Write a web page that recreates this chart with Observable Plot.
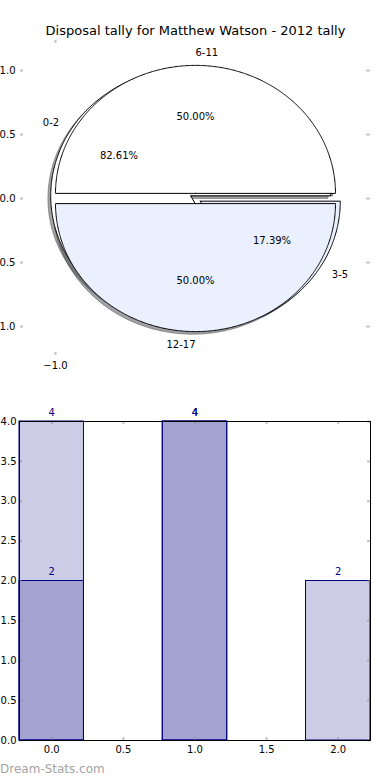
<!DOCTYPE html>
<html><head><meta charset="utf-8">
<script src="https://cdn.jsdelivr.net/npm/d3@7"></script>
<script src="https://cdn.jsdelivr.net/npm/@observablehq/plot@0.6"></script>
<style>
body{margin:0;background:#fff;font-family:"DejaVu Sans",sans-serif;}
#wrap{position:relative;width:390px;height:780px;overflow:hidden;background:#fff;}
#pie{position:absolute;left:0;top:0;}
#bar{position:absolute;left:0;top:390px;}
#wm{position:absolute;left:0;top:762px;font-size:12px;line-height:14px;color:#a3a3a3;white-space:nowrap;}
</style></head><body>
<div id="wrap"><div id="pie"></div><div id="bar"></div><div id="wm">Dream-Stats.com</div></div>
<script>
// ---------- data ----------
const title = "Disposal tally for Matthew Watson - 2012 tally";
const pie1Labels = ["0-2", "3-5"];
const pie1Pct = [82.61, 17.39];
const pie2Labels = ["6-11", "12-17"];
const pie2Pct = [50.00, 50.00];
const pieYTicks = [-1, -0.5, 0, 0.5, 1];
const pieXTicks = [-1];

const barX = [0, 1, 2];
const seriesA = [4, 4, 2];
const seriesB = [2, 4, 0];
const barXTicks = [0, 0.5, 1, 1.5, 2];
const barYTicks = [0, 0.5, 1, 1.5, 2, 2.5, 3, 3.5, 4];

// ---------- styles ----------
const WEDGE_COLORS = ["#ffffff", "#eaf0fe"];
const SHADOW_COLORS = ["#4d4d4d", "#46484c"];
const EXPLODE = 0.04, SH_X = -0.02, SH_Y = -0.02;
const LABEL_DIST = 1.1, PCT_DIST = 0.6;
const fmt1 = d3.format(".1f");
const TICK_STROKE = "#888", TICK_OP = 0.5, TICK_W = 2, TICK_LEN = 3;

function wedges(labels, pcts) {
  let a = 0;
  return labels.map((label, i) => {
    const a0 = a, a1 = a + 360 * pcts[i] / 100; a = a1;
    const mid = (a0 + a1) / 2 * Math.PI / 180;
    const cx = EXPLODE * Math.cos(mid), cy = EXPLODE * Math.sin(mid);
    const pts = [{x: cx, y: cy}];
    const n = Math.max(2, Math.ceil((a1 - a0) * 2));
    for (let k = 0; k <= n; k++) {
      const t = (a0 + (a1 - a0) * k / n) * Math.PI / 180;
      pts.push({x: cx + Math.cos(t), y: cy + Math.sin(t)});
    }
    pts.push({x: cx, y: cy});
    return {
      label, pct: pcts[i], i, pts,
      lx: cx + LABEL_DIST * Math.cos(mid), ly: cy + LABEL_DIST * Math.sin(mid),
      px: cx + PCT_DIST * Math.cos(mid), py: cy + PCT_DIST * Math.sin(mid),
      right: Math.cos(mid) > 0
    };
  });
}
const p1 = wedges(pie1Labels, pie1Pct);
const p2 = wedges(pie2Labels, pie2Pct);
const all = [...p1, ...p2];

const pieW = 390, pieH = 390, pml = 20, pmr = 20, pmt = 40, pmb = 35;
const pFrameW = pieW - pml - pmr, pFrameH = pieH - pmt - pmb;

const pieMarks = [];
for (const w of all) {
  pieMarks.push(Plot.line(w.pts, {
    x: d => d.x + SH_X, y: d => d.y + SH_Y,
    fill: SHADOW_COLORS[w.i], fillOpacity: 0.5,
    stroke: SHADOW_COLORS[w.i], strokeOpacity: 0.5, strokeWidth: 1
  }));
}
for (const w of all) {
  pieMarks.push(Plot.line(w.pts, {
    x: "x", y: "y", fill: WEDGE_COLORS[w.i], stroke: "black", strokeWidth: 1
  }));
}
pieMarks.push(
  Plot.text(all.filter(w => w.right), {x: "lx", y: "ly", text: "label", textAnchor: "start", fontSize: 10, fill: "black"}),
  Plot.text(all.filter(w => !w.right), {x: "lx", y: "ly", text: "label", textAnchor: "end", fontSize: 10, fill: "black"}),
  Plot.text(all, {x: "px", y: "py", text: d => d.pct.toFixed(2) + "%", fontSize: 10, fill: "black"}),
  // inward ticks
  Plot.tickY(pieYTicks, {y: d => d, insetRight: pFrameW - TICK_LEN, stroke: TICK_STROKE, strokeOpacity: TICK_OP, strokeWidth: TICK_W}),
  Plot.tickY(pieYTicks, {y: d => d, insetLeft: pFrameW - TICK_LEN - 1, stroke: TICK_STROKE, strokeOpacity: TICK_OP, strokeWidth: TICK_W}),
  Plot.tickX(pieXTicks, {x: d => d, insetTop: pFrameH - TICK_LEN, stroke: TICK_STROKE, strokeOpacity: TICK_OP, strokeWidth: TICK_W}),
  Plot.tickX(pieXTicks, {x: d => d, insetBottom: pFrameH - TICK_LEN, stroke: TICK_STROKE, strokeOpacity: TICK_OP, strokeWidth: TICK_W}),
  Plot.axisY({ticks: pieYTicks, tickFormat: fmt1, tickSize: 0, tickPadding: 5, label: null, fontSize: 10}),
  Plot.axisX({ticks: pieXTicks, tickFormat: fmt1, tickSize: 0, tickPadding: 6, label: null, fontSize: 10}),
  Plot.text([title], {frameAnchor: "top", lineAnchor: "middle", dy: -10, fontSize: 13, fill: "black"})
);

const pie = Plot.plot({
  width: pieW, height: pieH,
  marginLeft: pml, marginRight: pmr, marginTop: pmt, marginBottom: pmb,
  x: {domain: [-1.25, 1.25]},
  y: {domain: [-1.2266, 1.2344]},
  style: {fontFamily: "DejaVu Sans", fontSize: "10px", color: "black", background: "white", overflow: "visible"},
  marks: pieMarks
});
document.getElementById("pie").appendChild(pie);

// ---------- bar chart ----------
const BAR_W = 0.45;
const rows = s => barX.map((x, i) => ({x, v: s[i]})).filter(d => d.v > 0);
const bW = 390, bH = 390, bml = 19, bmr = 20, bmt = 31, bmb = 40;
const bFrameW = bW - bml - bmr, bFrameH = bH - bmt - bmb;
const barMarks = [];
for (const s of [seriesA, seriesB]) {
  barMarks.push(Plot.rect(rows(s), {
    x1: d => d.x - BAR_W / 2, x2: d => d.x + BAR_W / 2, y1: 0, y2: "v",
    fill: "navy", fillOpacity: 0.2, stroke: "navy", strokeWidth: 1
  }));
}
for (const s of [seriesA, seriesB]) {
  barMarks.push(Plot.text(rows(s), {x: "x", y: "v", text: d => String(d.v), dy: -9, fill: "navy", fontSize: 10}));
}
barMarks.push(
  Plot.tickX(barXTicks, {x: d => d, insetTop: bFrameH - TICK_LEN, stroke: TICK_STROKE, strokeOpacity: TICK_OP, strokeWidth: TICK_W}),
  Plot.tickX(barXTicks, {x: d => d, insetBottom: bFrameH - TICK_LEN, stroke: TICK_STROKE, strokeOpacity: TICK_OP, strokeWidth: TICK_W}),
  Plot.tickY(barYTicks, {y: d => d, insetRight: bFrameW - TICK_LEN, stroke: TICK_STROKE, strokeOpacity: TICK_OP, strokeWidth: TICK_W}),
  Plot.tickY(barYTicks, {y: d => d, insetLeft: bFrameW - TICK_LEN, stroke: TICK_STROKE, strokeOpacity: TICK_OP, strokeWidth: TICK_W}),
  Plot.frame({stroke: "black", strokeWidth: 1}),
  Plot.axisX({ticks: barXTicks, tickFormat: fmt1, tickSize: 0, tickPadding: 5, label: null, fontSize: 10}),
  Plot.axisY({ticks: barYTicks, tickFormat: fmt1, tickSize: 0, tickPadding: 3, label: null, fontSize: 10})
);
const bar = Plot.plot({
  width: bW, height: bH,
  marginLeft: bml, marginRight: bmr, marginTop: bmt, marginBottom: bmb,
  x: {domain: [-0.225, 2.225]},
  y: {domain: [0, 4]},
  style: {fontFamily: "DejaVu Sans", fontSize: "10px", color: "black", background: "white", overflow: "visible"},
  marks: barMarks
});
document.getElementById("bar").appendChild(bar);
</script></body></html>
